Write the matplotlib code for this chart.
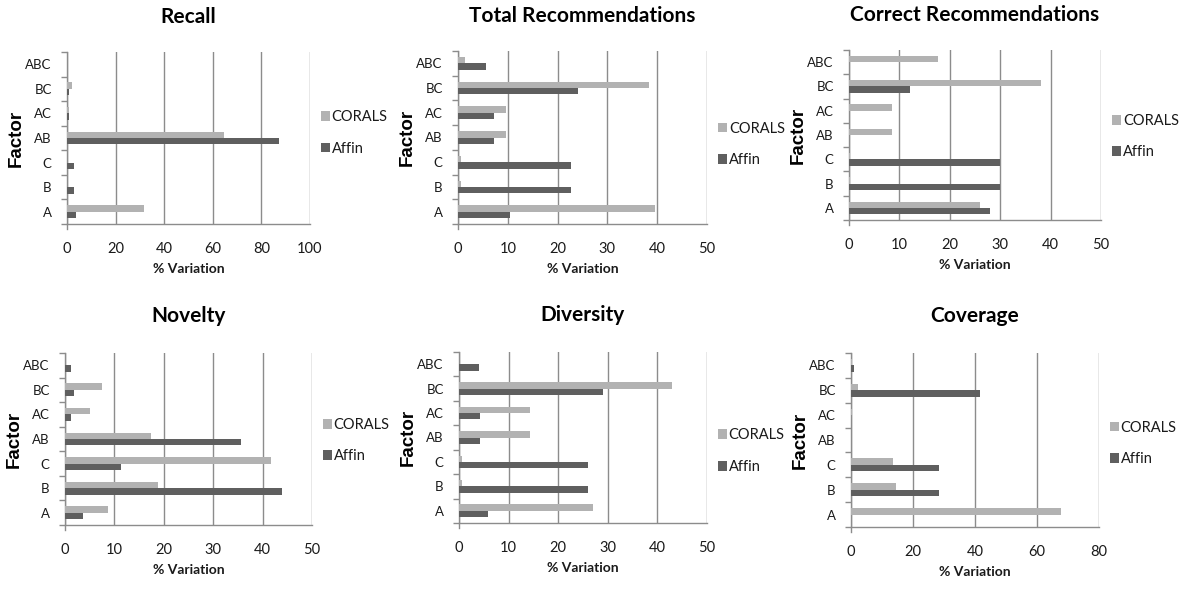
import numpy as np
import matplotlib
matplotlib.use("Agg")
import matplotlib.pyplot as plt

plt.rcParams['font.family'] = ['Lato', 'DejaVu Sans']

factors = ['A', 'B', 'C', 'AB', 'AC', 'BC', 'ABC']
series_names = ['CORALS', 'Affin']

recall_corals = [31.8, 0, 0, 64.8, 1.0, 2.0, 0]
recall_affin = [3.7, 3.0, 3.0, 87.4, 1.0, 1.0, 0]

total_corals = [39.5, 0.7, 0.7, 9.6, 9.6, 38.3, 1.4]
total_affin = [10.4, 22.6, 22.6, 7.2, 7.2, 24.0, 5.6]

correct_corals = [26.0, 0.2, 0.2, 8.6, 8.6, 38.1, 17.7]
correct_affin = [27.9, 30.0, 30.0, 0, 0, 12.1, 0]

novelty_corals = [8.8, 18.9, 41.6, 17.5, 5.1, 7.4, 0]
novelty_affin = [3.7, 44.0, 11.3, 35.7, 1.3, 1.9, 1.3]

diversity_corals = [27.0, 0.6, 0.6, 14.3, 14.3, 42.9, 0]
diversity_affin = [5.9, 26.0, 26.0, 4.3, 4.3, 29.0, 4.0]

coverage_corals = [67.9, 14.5, 13.6, 0, 0.3, 2.4, 0.3]
coverage_affin = [0, 28.4, 28.4, 0, 0, 41.6, 1.1]

panels = [
    ("Recall", recall_corals, recall_affin, 100, 20),
    ("Total Recommendations", total_corals, total_affin, 50, 10),
    ("Correct Recommendations", correct_corals, correct_affin, 50, 10),
    ("Novelty", novelty_corals, novelty_affin, 50, 10),
    ("Diversity", diversity_corals, diversity_affin, 50, 10),
    ("Coverage", coverage_corals, coverage_affin, 80, 20),
]

# axes boxes in pixels: left, top, right, bottom
boxes = [
    (67, 52, 310, 224), (458, 51, 707, 224), (849, 50, 1101, 220),
    (65, 353, 312, 525), (459, 352, 707, 523), (851, 353, 1099, 527),
]
legend_y = [0.53, 0.46, 0.49, 0.49, 0.42, 0.48]

W, H = 1181, 590
light = '#b2b2b2'
dark = '#5f5f5f'
line_c = '#8c8c8c'
text_c = '#1a1a1a'

fig = plt.figure(figsize=(W / 100, H / 100), dpi=100)

y = np.arange(len(factors))
bh = 0.26

for k, (title, corals, affin, xmax, step) in enumerate(panels):
    l, t, r, b = boxes[k]
    ax = fig.add_axes([l / W, 1 - b / H, (r - l) / W, (b - t) / H])
    ax.barh(y + bh / 2, corals, height=bh, color=light, label=series_names[0], zorder=3)
    ax.barh(y - bh / 2, affin, height=bh, color=dark, label=series_names[1], zorder=3)

    ax.set_xlim(0, xmax)
    ax.set_ylim(-0.5, len(factors) - 0.5)
    ax.set_xticks(np.arange(0, xmax + 1, step))
    ax.set_yticks(y)
    ax.set_yticklabels(factors)
    ax.set_yticks(np.arange(-0.5, len(factors), 1), minor=True)

    ax.grid(axis='x', color=line_c, linewidth=1, zorder=0)
    ax.set_axisbelow(True)
    for s in ['top', 'right']:
        ax.spines[s].set_visible(False)
    for s in ['left', 'bottom']:
        ax.spines[s].set_color(line_c)
        ax.spines[s].set_linewidth(1)
    ax.spines['left'].set_bounds(-0.7, len(factors) - 0.5)

    ax.tick_params(axis='x', length=0, pad=13, labelsize=10.5, labelcolor=text_c)
    ax.tick_params(axis='y', which='major', length=0, pad=11, labelsize=9.5, labelcolor=text_c)
    ax.tick_params(axis='y', which='minor', length=4, color=line_c, width=1)

    ax.set_title(title, fontsize=15, fontweight='bold', pad=21 if k < 3 else 22, color='black')
    ax.set_xlabel('% Variation', fontsize=10, fontweight='bold', labelpad=5, color=text_c)
    ax.set_ylabel('Factor', fontsize=13.5, fontweight='bold', family=['Liberation Sans'])
    ax.yaxis.set_label_coords(-42 / (r - l), 0.5)

    leg = ax.legend(loc='center left', bbox_to_anchor=(1.02, legend_y[k]), frameon=False,
                    fontsize=10.5, handlelength=0.65, handleheight=0.65, handletextpad=0.1,
                    labelspacing=1.2, borderaxespad=0)
    for txt in leg.get_texts():
        txt.set_color(text_c)

fig.savefig('out.png', dpi=100)
